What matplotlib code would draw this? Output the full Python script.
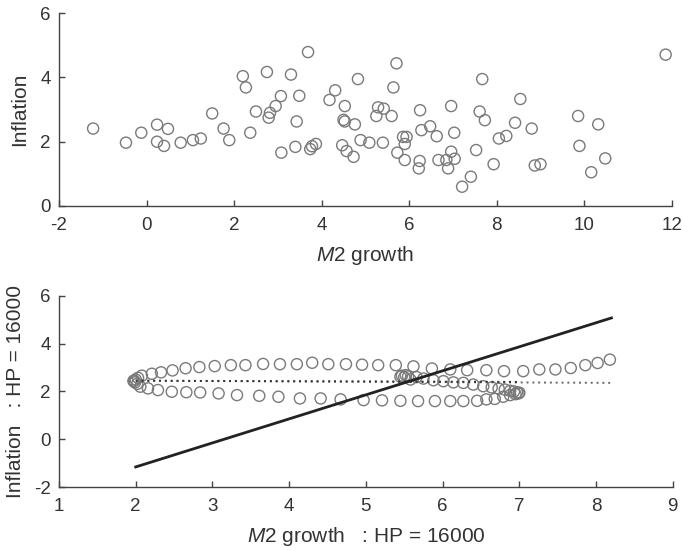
import matplotlib.pyplot as plt

plt.rcParams['font.family'] = ['Liberation Sans', 'DejaVu Sans']
plt.rcParams['mathtext.fontset'] = 'custom'
plt.rcParams['mathtext.it'] = 'Liberation Sans:italic'
plt.rcParams['mathtext.rm'] = 'Liberation Sans'
plt.rcParams['axes.unicode_minus'] = False

# Raw data: M2 growth vs inflation
raw_m2 = [-1.22, -0.47, -0.12, 0.24, 0.49, 0.24, 0.40, 0.78, 1.06, 1.24,
          1.50, 1.76, 1.89, 2.20, 2.27, 2.37, 2.50, 2.75, 2.79, 2.82,
          2.95, 3.07, 3.08, 3.30, 3.49, 3.43, 3.40, 3.69, 3.74, 3.78,
          3.87, 4.18, 4.31, 4.53, 4.50, 4.53, 4.76, 4.47, 4.57, 4.73,
          4.83, 4.89, 5.09, 5.29, 5.25, 5.71, 5.64, 5.42, 5.60, 5.40,
          5.73, 5.86, 5.94, 5.90, 5.90, 6.25, 6.28, 6.48, 6.63, 6.24,
          6.22, 6.67, 6.85, 6.89, 6.96, 7.04, 6.96, 7.03, 7.21, 7.41,
          7.53, 7.61, 7.73, 7.67, 7.93, 8.05, 8.22, 8.42, 8.54, 8.80,
          8.87, 9.00, 9.86, 9.89, 10.32, 10.16, 10.48, 11.86]
raw_infl = [2.41, 1.97, 2.28, 2.53, 2.40, 2.00, 1.87, 1.97, 2.05, 2.10,
            2.88, 2.41, 2.05, 4.04, 3.69, 2.28, 2.94, 4.17, 2.75, 2.90,
            3.11, 3.42, 1.66, 4.09, 3.43, 2.63, 1.84, 4.79, 1.77, 1.86,
            1.93, 3.30, 3.60, 3.11, 2.68, 2.63, 2.54, 1.89, 1.71, 1.53,
            3.95, 2.05, 1.97, 3.07, 2.80, 4.44, 3.69, 3.03, 2.80, 1.97,
            1.66, 2.15, 2.15, 1.93, 1.43, 2.98, 2.36, 2.48, 2.17, 1.40,
            1.17, 1.43, 1.43, 1.17, 1.69, 1.47, 3.11, 2.28, 0.60, 0.91,
            1.74, 2.94, 2.67, 3.95, 1.30, 2.10, 2.18, 2.59, 3.33, 2.41,
            1.26, 1.30, 2.80, 1.87, 2.54, 1.05, 1.48, 4.71]

# HP trend (lambda = 16000), in three arms of the loop
mid_m2 = [5.45, 5.47, 5.50, 5.52, 5.55, 5.58, 5.66, 5.75, 5.88, 6.01,
          6.14, 6.27, 6.40, 6.53, 6.64, 6.73, 6.81, 6.88, 6.93, 6.97, 6.99, 7.00]
mid_infl = [2.62, 2.66, 2.60, 2.68, 2.63, 2.50, 2.60, 2.54, 2.47, 2.43,
            2.38, 2.36, 2.29, 2.22, 2.17, 2.12, 2.08, 2.03, 2.00, 1.96, 1.92, 1.95]
low_m2 = [6.95, 6.88, 6.79, 6.68, 6.57, 6.45, 6.27, 6.10, 5.90, 5.68,
          5.45, 5.21, 4.97, 4.67, 4.41, 4.14, 3.86, 3.61, 3.32, 3.08,
          2.84, 2.66, 2.47, 2.29, 2.16, 2.06, 2.02, 1.99, 1.97, 1.98, 2.00, 2.03]
low_infl = [1.89, 1.85, 1.78, 1.69, 1.67, 1.61, 1.60, 1.60, 1.60, 1.60,
            1.61, 1.63, 1.64, 1.67, 1.71, 1.71, 1.78, 1.82, 1.85, 1.92,
            1.96, 1.97, 1.99, 2.06, 2.13, 2.20, 2.32, 2.38, 2.44, 2.45, 2.50, 2.57]
up_m2 = [2.08, 2.21, 2.33, 2.48, 2.65, 2.83, 3.03, 3.24, 3.43, 3.66,
         3.88, 4.10, 4.30, 4.51, 4.74, 4.95, 5.16, 5.39, 5.62, 5.86,
         6.10, 6.32, 6.57, 6.80, 7.05, 7.26, 7.47, 7.67, 7.86, 8.02, 8.18]
up_infl = [2.66, 2.74, 2.80, 2.88, 2.97, 3.02, 3.06, 3.10, 3.10, 3.15,
           3.14, 3.14, 3.20, 3.14, 3.14, 3.12, 3.10, 3.10, 3.05, 2.96,
           2.92, 2.89, 2.89, 2.85, 2.85, 2.92, 2.92, 2.98, 3.10, 3.19, 3.33]

# reference lines
qt_x, qt_y = [2.0, 8.2], [-1.15, 5.07]
reg_x, reg_y = [2.0, 8.2], [2.45, 2.36]
reg2_x, reg2_y = [2.0, 7.0], [2.45, 2.40]

spine_c = '#444444'
circ_c = '#7a7a7a'
txt_c = '#333333'

fig = plt.figure(figsize=(6.82, 5.5), dpi=100)


def style(ax):
    for s in ['top', 'right']:
        ax.spines[s].set_visible(False)
    for s in ['left', 'bottom']:
        ax.spines[s].set_color(spine_c)
        ax.spines[s].set_linewidth(1.0)
    ax.tick_params(direction='in', length=4, width=1.0, color=spine_c,
                   labelsize=13.5, labelcolor=txt_c)
    ax.tick_params(axis='x', pad=8)
    ax.tick_params(axis='y', pad=6)


# top panel
ax1 = fig.add_axes([0.0865, 0.6255, 0.8985, 0.3505])
ax1.scatter(raw_m2, raw_infl, s=64, facecolors='none', edgecolors=circ_c,
            linewidths=1.0, clip_on=False)
ax1.set_xlim(-2, 12)
ax1.set_ylim(0, 6)
ax1.set_xticks(range(-2, 13, 2))
ax1.set_yticks(range(0, 7, 2))
ax1.set_xlabel(r'$\mathit{M}$2 growth', fontsize=15, color=txt_c, labelpad=7)
ax1.set_ylabel('Inflation', fontsize=15, color=txt_c, labelpad=8)
style(ax1)

# bottom panel
ax2 = fig.add_axes([0.0865, 0.114, 0.9, 0.3484])
for xs, ys in [(mid_m2, mid_infl), (low_m2, low_infl), (up_m2, up_infl)]:
    ax2.scatter(xs, ys, s=64, facecolors='none', edgecolors=circ_c,
                linewidths=1.0)
ax2.plot(reg_x, reg_y, color='#666666', linestyle=(0, (1, 2)), linewidth=1.4)
ax2.plot(reg2_x, reg2_y, color='#333333', linestyle=(0, (1, 2)), linewidth=1.4)
ax2.plot(qt_x, qt_y, color='#222222', linewidth=2.0)
ax2.set_xlim(1, 9)
ax2.set_ylim(-2, 6)
ax2.set_xticks(range(1, 10))
ax2.set_yticks(range(-2, 7, 2))
ax2.set_xlabel(r'$\mathit{M}$2 growth   : HP = 16000', fontsize=15,
               color=txt_c, labelpad=7)
ax2.set_ylabel('Inflation   : HP = 16000', fontsize=15, color=txt_c,
               labelpad=6)
style(ax2)

fig.savefig('out.png', dpi=100)
